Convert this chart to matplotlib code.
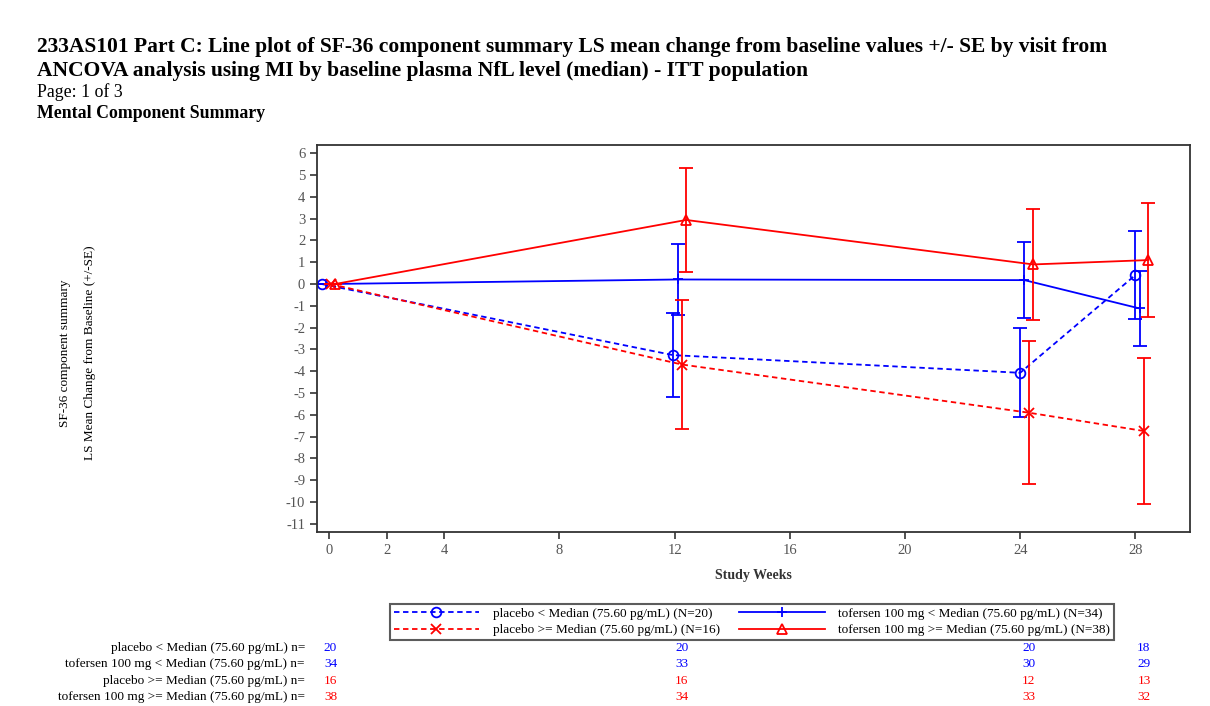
import numpy as np
import matplotlib
matplotlib.use("Agg")
import matplotlib.pyplot as plt
from matplotlib import transforms

plt.rcParams['font.family'] = ['Liberation Serif', 'DejaVu Serif']
plt.rcParams['axes.unicode_minus'] = False

# Visit weeks (slightly dodged per group so the error bars do not overlap)
x_pbo_lo = [-0.25, 11.95, 24.0, 28.0]
x_tof_lo = [-0.1, 12.1, 24.15, 28.15]
x_pbo_hi = [0.05, 12.25, 24.3, 28.3]
x_tof_hi = [0.2, 12.4, 24.45, 28.45]

# LS mean change from baseline and SE
mean_pbo_lo = [0.0, -3.26, -4.07, 0.41]
se_pbo_lo = [0.0, 1.94, 2.05, 2.02]
mean_tof_lo = [0.0, 0.21, 0.18, -1.12]
se_tof_lo = [0.0, 1.65, 1.75, 1.72]
mean_pbo_hi = [0.0, -3.69, -5.90, -6.74]
se_pbo_hi = [0.0, 2.96, 3.28, 3.33]
mean_tof_hi = [0.0, 2.94, 0.90, 1.10]
se_tof_hi = [0.0, 2.39, 2.56, 2.62]

labels = ["placebo < Median (75.60 pg/mL) (N=20)",
          "tofersen 100 mg < Median (75.60 pg/mL) (N=34)",
          "placebo >= Median (75.60 pg/mL) (N=16)",
          "tofersen 100 mg >= Median (75.60 pg/mL) (N=38)"]

# number of subjects per visit
n_rows = ["placebo < Median (75.60 pg/mL) n=",
          "tofersen 100 mg < Median (75.60 pg/mL) n=",
          "placebo >= Median (75.60 pg/mL) n=",
          "tofersen 100 mg >= Median (75.60 pg/mL) n="]
n_pbo_lo = [20, 20, 20, 18]
n_tof_lo = [34, 33, 30, 29]
n_pbo_hi = [16, 16, 12, 13]
n_tof_hi = [38, 34, 33, 32]

fig = plt.figure(figsize=(12.1, 7.06), dpi=100)
ax = fig.add_axes([0.262, 0.2465, 0.7215, 0.5485])

series = [
    (x_pbo_lo, mean_pbo_lo, se_pbo_lo, 'blue', '--', 'o', labels[0]),
    (x_tof_lo, mean_tof_lo, se_tof_lo, 'blue', '-', '+', labels[1]),
    (x_pbo_hi, mean_pbo_hi, se_pbo_hi, 'red', '--', 'x', labels[2]),
    (x_tof_hi, mean_tof_hi, se_tof_hi, 'red', '-', '^', labels[3]),
]
handles = []
for x, m, s, c, ls, mk, lab in series:
    ax.errorbar(x, m, yerr=s, fmt='none', ecolor=c, elinewidth=1.3,
                capsize=4.7, capthick=1.3)
    h, = ax.plot(x, m, color=c, linestyle=ls, linewidth=1.3, marker=mk,
                 markersize=7, markerfacecolor='none', markeredgecolor=c,
                 markeredgewidth=1.3, dashes=(3, 2) if ls == '--' else (None, None),
                 label=lab)
    handles.append(h)

ax.set_xlim(-0.42, 29.9)
ax.set_ylim(-11.37, 6.39)
ax.set_xticks([0, 2, 4, 8, 12, 16, 20, 24, 28])
ax.set_yticks(np.arange(-11, 7, 1))
ax.tick_params(direction='out', length=5, width=1.2, colors='#333333',
               labelcolor='#555555', labelsize=10.5)
for sp in ax.spines.values():
    sp.set_color('#333333')
    sp.set_linewidth(1.3)
ax.set_xlabel("Study Weeks", fontsize=10, fontweight='bold', color='#333333',
              labelpad=9)

fig.text(0.054, 0.5, "SF-36 component summary", rotation=90, fontsize=9.5,
         ha='center', va='center')
fig.text(0.074, 0.5, "LS Mean Change from Baseline (+/-SE)", rotation=90,
         fontsize=9.5, ha='center', va='center')

fig.text(0.0305, 0.934, "233AS101 Part C: Line plot of SF-36 component summary LS mean change from baseline values +/- SE by visit from",
         fontsize=15.5, fontweight='bold', va='center')
fig.text(0.0305, 0.900, "ANCOVA analysis using MI by baseline plasma NfL level (median) - ITT population",
         fontsize=15.5, fontweight='bold', va='center')
fig.text(0.0305, 0.869, "Page: 1 of 3", fontsize=12.8, va='center')
fig.text(0.0305, 0.839, "Mental Component Summary", fontsize=12.8,
         fontweight='bold', va='center')

# placebo groups in the first legend column, tofersen in the second
leg = fig.legend([handles[0], handles[2], handles[1], handles[3]],
                 [labels[0], labels[2], labels[1], labels[3]],
                 ncol=2, loc='center', bbox_to_anchor=(0.6215, 0.119),
                 fontsize=9.5, frameon=True, fancybox=False, handlelength=6.5,
                 borderpad=0.3, labelspacing=0.3, columnspacing=1.5,
                 handletextpad=1.0)
leg.get_frame().set_edgecolor('#333333')
leg.get_frame().set_linewidth(1.5)

# n-at-visit table under the plot
trans = transforms.blended_transform_factory(ax.transData, fig.transFigure)
row_y = [0.082, 0.059, 0.036, 0.013]
n_vals = [n_pbo_lo, n_tof_lo, n_pbo_hi, n_tof_hi]
n_cols = ['blue', 'blue', 'red', 'red']
for lab, ns, c, yy in zip(n_rows, n_vals, n_cols, row_y):
    fig.text(0.252, yy, lab, fontsize=9.5, ha='right', va='center')
    for xv, nv in zip(x_pbo_hi, ns):
        fig.text(xv, yy, str(nv), transform=trans, fontsize=9.5, color=c,
                 ha='center', va='center')

fig.savefig("out.png", dpi=100)
